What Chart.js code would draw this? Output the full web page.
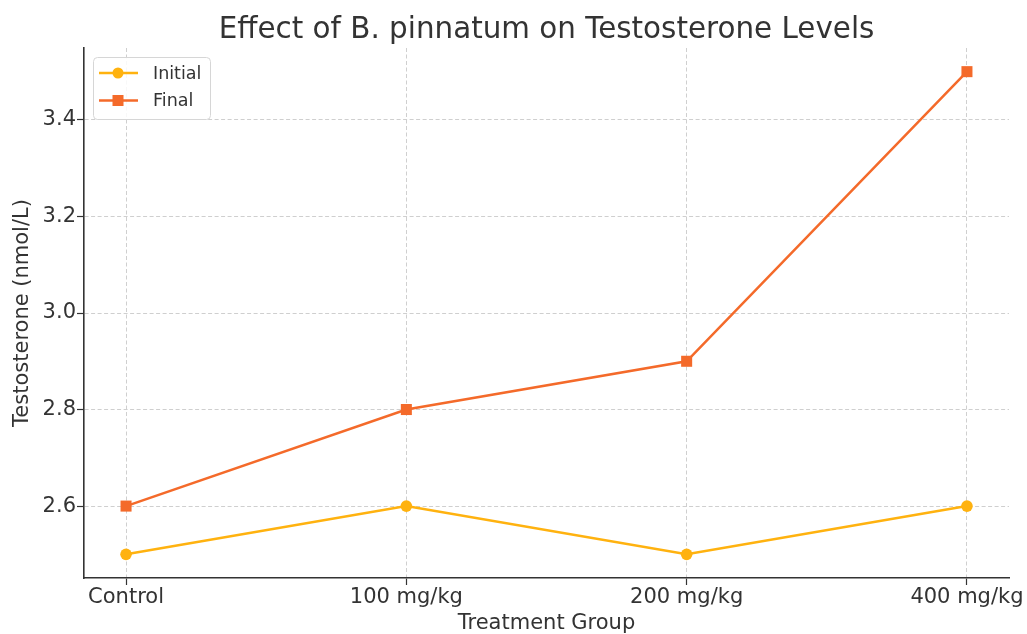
<!DOCTYPE html>
<html>
<head>
<meta charset="utf-8">
<title>Effect of B. pinnatum on Testosterone Levels</title>
<script src="https://cdn.jsdelivr.net/npm/chart.js@4/dist/chart.umd.min.js"></script>
<style>
    html, body { margin: 0; padding: 0; background: #fff; }
    #wrap { width: 1027px; height: 634px; position: relative; }
</style>
</head>
<body>
<div id="wrap"><canvas id="testoChart"></canvas></div>
<script>
// ── Data ──────────────────────────────────────────────────────
const groups      = ['Control', '100 mg/kg', '200 mg/kg', '400 mg/kg'];
const initialData = [2.5, 2.6, 2.5, 2.6];
const finalData   = [2.6, 2.8, 2.9, 3.5];
const yTicks      = [2.6, 2.8, 3.0, 3.2, 3.4];

const FONT = 'DejaVu Sans';
const TEXT = '#333333';
const INITIAL_COLOR = '#FFB20F';
const FINAL_COLOR   = '#F46A2A';

const toPoints = arr => arr.map((v, i) => ({ x: i, y: v }));

// ── Title + legend drawn on the canvas ────────────────────────
const titlePlugin = {
    id: 'mplTitle',
    afterDraw(chart) {
        const { ctx, chartArea } = chart;
        ctx.save();
        ctx.fillStyle = TEXT;
        ctx.font = `29.4px "${FONT}"`;
        ctx.textAlign = 'center';
        ctx.textBaseline = 'alphabetic';
        ctx.fillText('Effect of B. pinnatum on Testosterone Levels', (chartArea.left + chartArea.right) / 2, 38);
        ctx.restore();
    },
};

const legendPlugin = {
    id: 'mplLegend',
    afterDraw(chart) {
        const { ctx } = chart;
        const x = 93, y = 57, w = 117, h = 62, r = 4;
        ctx.save();
        ctx.fillStyle = 'rgba(255,255,255,0.85)';
        ctx.strokeStyle = '#d6d6d6';
        ctx.lineWidth = 1;
        ctx.beginPath();
        ctx.roundRect(x + 0.5, y + 0.5, w, h, r);
        ctx.fill();
        ctx.stroke();

        chart.data.datasets.forEach((ds, i) => {
            const cy = 73 + i * 27.5;
            ctx.strokeStyle = ds.borderColor;
            ctx.lineWidth = ds.borderWidth;
            ctx.beginPath();
            ctx.moveTo(99, cy);
            ctx.lineTo(138, cy);
            ctx.stroke();
            ctx.fillStyle = ds.borderColor;
            if (ds.pointStyle === 'rect') {
                ctx.fillRect(118 - 5.5, cy - 5.5, 11, 11);
            } else {
                ctx.beginPath();
                ctx.arc(118, cy, 5.5, 0, Math.PI * 2);
                ctx.fill();
            }
            ctx.fillStyle = TEXT;
            ctx.font = `17.5px "${FONT}"`;
            ctx.textAlign = 'left';
            ctx.textBaseline = 'middle';
            ctx.fillText(ds.label, 153, cy + 1);
        });
        ctx.restore();
    },
};

// ── Chart ─────────────────────────────────────────────────────
document.addEventListener('DOMContentLoaded', () => {
    const ctx = document.getElementById('testoChart').getContext('2d');

    new Chart(ctx, {
        type: 'line',
        data: {
            datasets: [
                {
                    label: 'Initial',
                    data: toPoints(initialData),
                    borderColor: INITIAL_COLOR,
                    backgroundColor: INITIAL_COLOR,
                    borderWidth: 2.5,
                    pointStyle: 'circle',
                    pointRadius: 5.8,
                    pointBorderWidth: 0,
                    pointBackgroundColor: INITIAL_COLOR,
                    tension: 0,
                },
                {
                    label: 'Final',
                    data: toPoints(finalData),
                    borderColor: FINAL_COLOR,
                    backgroundColor: FINAL_COLOR,
                    borderWidth: 2.5,
                    pointStyle: 'rect',
                    pointRadius: 7.8,
                    pointBorderWidth: 0,
                    pointBackgroundColor: FINAL_COLOR,
                    tension: 0,
                },
            ],
        },
        options: {
            responsive: true,
            maintainAspectRatio: false,
            animation: false,
            layout: { padding: { top: 48, right: 18, left: 0, bottom: 0 } },
            plugins: {
                legend: { display: false },
                tooltip: { enabled: false },
                title: { display: false },
            },
            scales: {
                x: {
                    type: 'linear',
                    min: -0.15,
                    max: 3.15,
                    afterBuildTicks: axis => { axis.ticks = groups.map((_, i) => ({ value: i })); },
                    afterFit: axis => { axis.height = 56; },
                    grid:  { color: '#cfcfcf', lineWidth: 1, tickColor: TEXT, tickLength: 7, tickWidth: 1.2 },
                    border: { color: TEXT, width: 1.6, dash: [4, 2.5] },
                    ticks: {
                        color: TEXT, font: { family: FONT, size: 21 }, padding: 0,
                        maxRotation: 0, autoSkip: false,
                        callback: v => groups[v] ?? '',
                    },
                    title: {
                        display: true, text: 'Treatment Group', color: TEXT,
                        font: { family: FONT, size: 21, lineHeight: 1.0 }, padding: { top: 0, bottom: 0 },
                    },
                },
                y: {
                    min: 2.451,
                    max: 3.549,
                    afterBuildTicks: axis => { axis.ticks = yTicks.map(v => ({ value: v })); },
                    afterFit: axis => { axis.width = 84; },
                    grid:  { color: '#cfcfcf', lineWidth: 1, tickColor: TEXT, tickLength: 7, tickWidth: 1.2 },
                    border: { color: TEXT, width: 1.6, dash: [4, 2.5] },
                    ticks: {
                        color: TEXT, font: { family: FONT, size: 21 }, padding: 1,
                        callback: v => Number(v).toFixed(1),
                    },
                    title: {
                        display: true, text: 'Testosterone (nmol/L)', color: TEXT,
                        font: { family: FONT, size: 21, lineHeight: 1.0 }, padding: { top: 12, bottom: 0 },
                    },
                },
            },
        },
        plugins: [titlePlugin, legendPlugin],
    });
});
</script>
</body>
</html>
